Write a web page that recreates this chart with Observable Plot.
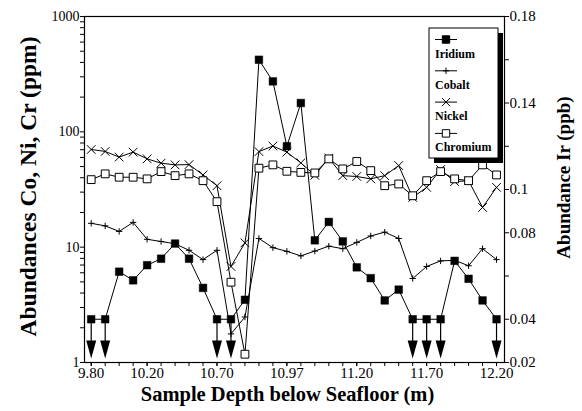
<!DOCTYPE html>
<html>
<head>
<meta charset="utf-8">
<script src="https://cdn.jsdelivr.net/npm/d3@7"></script>
<script src="https://cdn.jsdelivr.net/npm/@observablehq/plot@0.6"></script>
<style>
  html, body { margin: 0; padding: 0; background: #fff; }
</style>
</head>
<body>
<div id="chart"></div>
<script>
// ---- data ----
const sample = [0,1,2,3,4,5,6,7,8,9,10,11,12,13,14,15,16,17,18,19,20,21,22,23,24,25,26,27,28,29];
const depthTickSamples = [0,4,9,14,19,24,29];
const depthTickLabels = ["9.80","10.20","10.70","10.97","11.20","11.70","12.20"];

const iridium  = [0.04,0.04,0.062,0.058,0.065,0.068,0.075,0.068,0.0545,0.04,0.04,0.049,0.160,0.150,0.12,0.140,0.0765,0.085,0.076,0.064,0.059,0.0487,0.0537,0.04,0.04,0.04,0.067,0.0587,0.0487,0.04];
const cobalt   = [16.1,15.3,13.7,16.4,11.7,11.2,10.7,9.4,7.8,9.4,1.77,2.48,11.9,9.9,9.2,8.4,9.25,10.2,9.7,11.0,12.5,13.5,11.9,5.35,6.8,7.6,7.7,6.9,9.7,7.8];
const nickel   = [70.3,67.6,60.4,66.7,58.3,53.5,51.7,52.0,42.3,34.1,6.8,10.9,67.4,75.3,66.7,53.8,42,59.2,41.7,41,39.1,41.7,51.0,27.0,33.0,47.1,37.0,37.7,22.1,33.0];
const chromium = [38.5,43.2,40.4,40.4,39.1,45.2,41.7,43.2,37.7,24.8,4.97,1.18,48.4,51.7,45.5,44.5,44,58.3,47.7,55.3,46.1,34.1,35.3,27.9,37.7,45.2,39.1,37.7,51.7,42.3];
const belowDetection = [0,1,9,10,23,24,25,29];

const leftTickValues = [1,10,100,1000];
const leftTickLabels = ["1","10","100","1000"];
const irTickValues = [0.02,0.04,0.06,0.08,0.10,0.12,0.14,0.16,0.18];
const irTickLabels = ["0.02","0.04","0.06","0.08","0.1","0.12","0.14","0.16","0.18"];

const legendNames = ["Iridium","Cobalt","Nickel","Chromium"];

// ---- helpers ----
const irDomain = [0.02, 0.18];
const irToY = v => 10 ** ((v - irDomain[0]) / (irDomain[1] - irDomain[0]) * 3);

const rows = sample.map((s, i) => ({s, ir: irToY(iridium[i]), co: cobalt[i], ni: nickel[i], cr: chromium[i]}));
const arrows = belowDetection.map(s => ({s, y: irToY(iridium[s])}));

const nearestLabel = (d, values, labels) => {
  let best = 0, bd = Infinity;
  values.forEach((v, i) => { const e = Math.abs(Math.log10(v) - Math.log10(d)); if (e < bd) { bd = e; best = i; } });
  return bd < 1e-6 ? labels[best] : "";
};
const xLabel = d => { const i = depthTickSamples.indexOf(d); return i < 0 ? "" : depthTickLabels[i]; };
const rightTicks = irTickValues.map(irToY);
const leftMinor = [];
for (const p of [1, 10, 100]) for (let k = 1; k < 10; k++) leftMinor.push(k * p);
leftMinor.push(1000);

const arrowHead = {
  draw(ctx) {
    ctx.moveTo(-5, -22);
    ctx.lineTo(5, -22);
    ctx.lineTo(0, -4);
    ctx.closePath();
  }
};

const serif = "'Liberation Serif', 'Times New Roman', serif";

const chart = Plot.plot({
  width: 582,
  height: 411,
  marginTop: 16,
  marginBottom: 49,
  marginLeft: 84,
  marginRight: 78,
  style: {fontFamily: serif, fontSize: "15px", color: "black", background: "white"},
  x: {domain: [-0.48, 29.57], axis: null},
  y: {type: "log", domain: [1, 1000], axis: null},
  marks: [
    Plot.frame({stroke: "black", strokeWidth: 1.2}),
    Plot.ruleX(sample, {x: d => d, y1: 1, y2: 1, insetBottom: -4, stroke: "black"}),
    Plot.axisX(depthTickSamples, {tickSize: 4, tickPadding: 1, tickFormat: xLabel, fontSize: 15, label: null}),
    Plot.axisY(leftMinor, {anchor: "left", tickSize: 4, tickPadding: 1, tickFormat: d => nearestLabel(d, leftTickValues, leftTickLabels), fontSize: 14, label: null}),
    Plot.axisY(rightTicks, {anchor: "right", tickSize: 4, tickPadding: 1, tickFormat: d => nearestLabel(d, rightTicks, irTickLabels), fontSize: 15, label: null}),

    Plot.line(rows, {x: "s", y: "co", stroke: "black", strokeWidth: 1}),
    Plot.line(rows, {x: "s", y: "ni", stroke: "black", strokeWidth: 1}),
    Plot.line(rows, {x: "s", y: "cr", stroke: "black", strokeWidth: 1}),
    Plot.line(rows, {x: "s", y: "ir", stroke: "black", strokeWidth: 1}),

    Plot.ruleX(arrows, {x: "s", y1: "y", y2: 1, insetBottom: 12, stroke: "black", strokeWidth: 1.2}),
    Plot.dot(arrows, {x: "s", y: 1, symbol: arrowHead, fill: "black", stroke: "none", r: 5}),

    Plot.dot(rows, {x: "s", y: "co", symbol: "plus", r: 2.2, stroke: "black", strokeWidth: 1}),
    Plot.dot(rows, {x: "s", y: "ni", symbol: "times", r: 4, stroke: "black", strokeWidth: 1}),
    Plot.dot(rows, {x: "s", y: "cr", symbol: "square", r: 4.4, fill: "white", stroke: "black", strokeWidth: 1}),
    Plot.dot(rows, {x: "s", y: "ir", symbol: "square", r: 4.3, fill: "black", stroke: "black", strokeWidth: 0.5}),

    Plot.text(["Abundances Co, Ni, Cr (ppm)"], {text: d => d, frameAnchor: "left", textAnchor: "middle", rotate: -90, dx: -56, dy: -3, fontSize: 23.5, fontWeight: "bold", fill: "black"}),
    Plot.text(["Abundance Ir (ppb)"], {text: d => d, frameAnchor: "right", textAnchor: "middle", rotate: -90, dx: 59, dy: -12, fontSize: 19, fontWeight: "bold", fill: "black"}),
    Plot.text(["Sample Depth below Seafloor (m)"], {text: d => d, frameAnchor: "bottom", textAnchor: "middle", dx: -7, dy: 38, fontSize: 20.5, fontWeight: "bold", fill: "black"})
  ]
});

// ---- legend ----
const svg = d3.select(chart);
const lg = svg.append("g").attr("text-anchor", "start");
lg.append("rect").attr("x", 434).attr("y", 33).attr("width", 69).attr("height", 130).attr("fill", "black");
lg.append("rect").attr("x", 429).attr("y", 28).attr("width", 69).attr("height", 130).attr("fill", "white").attr("stroke", "black").attr("stroke-width", 1);
const legendSymbols = [
  {type: d3.symbolSquare, size: 55, fill: "black", stroke: "black"},
  {type: d3.symbolPlus, size: 15, fill: "none", stroke: "black"},
  {type: d3.symbolTimes, size: 45, fill: "none", stroke: "black"},
  {type: d3.symbolSquare, size: 55, fill: "white", stroke: "black"}
];
legendNames.forEach((name, i) => {
  const y0 = 39.5 + i * 31.3;
  lg.append("line").attr("x1", 435).attr("x2", 457).attr("y1", y0).attr("y2", y0).attr("stroke", "black");
  const s = legendSymbols[i];
  lg.append("path").attr("transform", `translate(446,${y0})`).attr("d", d3.symbol(s.type, s.size)())
    .attr("fill", s.fill).attr("stroke", s.stroke);
  lg.append("text").attr("x", 435).attr("y", y0 + 18).attr("text-anchor", "start").text(name)
    .attr("font-family", serif).attr("font-size", 12).attr("font-weight", "bold").attr("fill", "black");
});

document.getElementById("chart").appendChild(chart);
</script>
</body>
</html>
